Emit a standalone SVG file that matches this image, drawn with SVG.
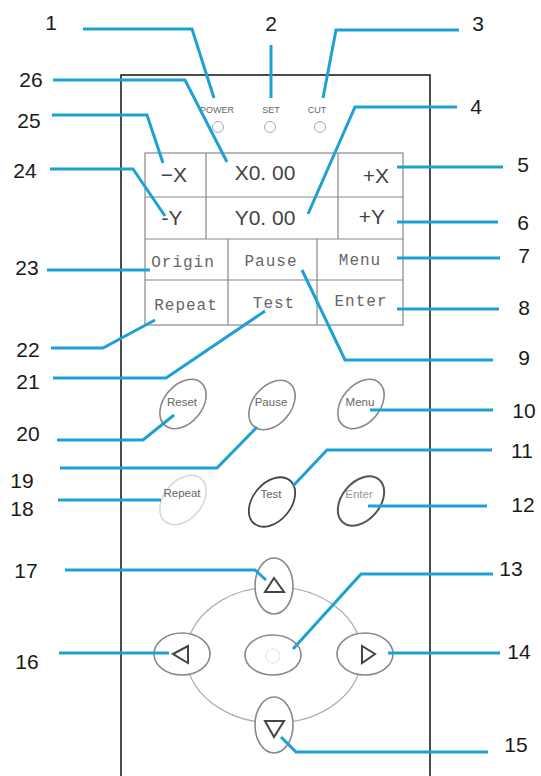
<svg xmlns="http://www.w3.org/2000/svg" width="541" height="776" viewBox="0 0 541 776">
<style>
.num{font-family:"Liberation Sans",Arial,sans-serif;font-size:21px;fill:#1a1a1a;text-anchor:middle}
.led{font-family:"Liberation Sans",Arial,sans-serif;font-size:9px;fill:#666;text-anchor:middle}
.ledc{fill:none;stroke:#aaa;stroke-width:1}
.cell{fill:none;stroke:#888;stroke-width:1.2}
.disp{font-family:"Liberation Sans",Arial,sans-serif;font-size:21px;fill:#444;text-anchor:middle}
.key{font-family:"Liberation Mono","Courier New",monospace;font-size:16px;fill:#666;text-anchor:middle;letter-spacing:1px}
.btn{fill:#fff;stroke:#888;stroke-width:1.6}
.btxt{font-family:"Liberation Sans",Arial,sans-serif;font-size:11.5px;fill:#666;text-anchor:middle}
.tri{fill:none;stroke:#444;stroke-width:2;stroke-linejoin:miter}
.con{fill:none;stroke:#1da1d4;stroke-width:3;stroke-linejoin:miter}
</style>
<rect width="541" height="776" fill="#fff"/>
<g id="panel">
<path d="M121,776 V75 H430 V776" fill="none" stroke="#111" stroke-width="1.5"/>
</g>
<g id="leds">
<text class="led" x="217" y="113">POWER</text>
<circle class="ledc" cx="218" cy="127" r="5.5"/>
<text class="led" x="271" y="113">SET</text>
<circle class="ledc" cx="270" cy="127" r="5.5"/>
<text class="led" x="317" y="113">CUT</text>
<circle class="ledc" cx="320" cy="127" r="5.5"/>
</g>
<g id="display">
<rect class="cell" x="145" y="153" width="258" height="172"/>
<line class="cell" x1="145" y1="197" x2="403" y2="197"/>
<line class="cell" x1="145" y1="239" x2="403" y2="239"/>
<line class="cell" x1="145" y1="280" x2="403" y2="280"/>
<line class="cell" x1="206" y1="153" x2="206" y2="239"/>
<line class="cell" x1="338" y1="153" x2="338" y2="239"/>
<line class="cell" x1="228" y1="239" x2="228" y2="325"/>
<line class="cell" x1="317" y1="239" x2="317" y2="325"/>
<text class="disp" x="174" y="182">−X</text>
<text class="disp" x="265" y="180">X0. 00</text>
<text class="disp" x="376" y="183">+X</text>
<text class="disp" x="172" y="225">-Y</text>
<text class="disp" x="265" y="225">Y0. 00</text>
<text class="disp" x="372" y="224">+Y</text>
<text class="key" x="183" y="267">Origin</text>
<text class="key" x="271" y="266">Pause</text>
<text class="key" x="360" y="265">Menu</text>
<text class="key" x="186" y="310">Repeat</text>
<text class="key" x="274" y="308">Test</text>
<text class="key" x="361" y="306">Enter</text>
</g>
<g id="btn-reset"><ellipse class="btn" cx="183" cy="404" rx="19" ry="28" transform="rotate(40 183 404)"/><text class="btxt" x="182" y="406">Reset</text></g>
<g id="btn-pause"><ellipse class="btn" cx="272" cy="405" rx="19" ry="28" transform="rotate(40 272 405)"/><text class="btxt" x="271" y="406">Pause</text></g>
<g id="btn-menu"><ellipse class="btn" cx="361" cy="404" rx="19" ry="28" transform="rotate(40 361 404)"/><text class="btxt" x="360" y="406">Menu</text></g>
<g id="btn-repeat"><ellipse class="btn" style="stroke:#d8d8d8" cx="183" cy="500" rx="19" ry="28" transform="rotate(40 183 500)"/><text class="btxt" x="182" y="497">Repeat</text></g>
<g id="btn-test"><ellipse class="btn" style="stroke:#444;stroke-width:1.8" cx="272" cy="502" rx="19" ry="28" transform="rotate(40 272 502)"/><text class="btxt" x="271" y="498">Test</text></g>
<g id="btn-enter"><ellipse class="btn" style="stroke:#555;stroke-width:2" cx="361" cy="501" rx="19" ry="28" transform="rotate(40 361 501)"/><text class="btxt" style="fill:#999" x="359" y="498">Enter</text></g>
<g id="dpad-ring"><ellipse cx="274" cy="655" rx="88" ry="68" fill="none" stroke="#aaa" stroke-width="1.2"/></g>
<g id="btn-up"><ellipse class="btn" cx="274" cy="586" rx="19" ry="28"/><polygon class="tri" points="274,578 265,592 284,592"/></g>
<g id="btn-down"><ellipse class="btn" cx="274" cy="725" rx="19" ry="28"/><polygon class="tri" points="265,721 284,721 274,737"/></g>
<g id="btn-left"><ellipse class="btn" cx="182" cy="654" rx="28" ry="21"/><polygon class="tri" points="173,654 188,646 188,663"/></g>
<g id="btn-right"><ellipse class="btn" cx="365" cy="654" rx="28" ry="21"/><polygon class="tri" points="362,646 362,663 375,654"/></g>
<g id="btn-center"><ellipse class="btn" cx="273" cy="655" rx="28" ry="20"/><circle cx="273" cy="656" r="7" fill="none" stroke="#ddd" stroke-width="1"/></g>
<g id="connectors">
<polyline class="con" points="83,29 192,29 214,98"/>
<polyline class="con" points="271,45 271,98"/>
<polyline class="con" points="459,30 336,30 323,98"/>
<polyline class="con" points="53,80 185,80 227,162"/>
<polyline class="con" points="52,115 147,115 163,163"/>
<polyline class="con" points="457,107 355,107 308,214"/>
<polyline class="con" points="50,169 133,169 165,216"/>
<polyline class="con" points="47,270 150,270"/>
<polyline class="con" points="51,348 103,348 155,320"/>
<polyline class="con" points="53,378 166,378 265,311"/>
<polyline class="con" points="397,167 503,167"/>
<polyline class="con" points="397,222 498,222"/>
<polyline class="con" points="397,258 500,258"/>
<polyline class="con" points="397,309 499,309"/>
<polyline class="con" points="302,270 345,360 493,360"/>
<polyline class="con" points="370,410 493,410"/>
<polyline class="con" points="57,440 143,440 174,415"/>
<polyline class="con" points="492,450 327,450 293,486"/>
<polyline class="con" points="60,468 217,468 257,427"/>
<polyline class="con" points="58,500 161,500"/>
<polyline class="con" points="368,506 487,506"/>
<polyline class="con" points="65,570 255,570 266,580"/>
<polyline class="con" points="493,574 361,574 293,649"/>
<polyline class="con" points="59,653 169,653"/>
<polyline class="con" points="500,653 388,653"/>
<polyline class="con" points="488,752 296,752 281,737"/>
</g>
<g id="labels">
<text class="num" x="51" y="30">1</text>
<text class="num" x="271" y="31">2</text>
<text class="num" x="478" y="31">3</text>
<text class="num" x="476" y="114">4</text>
<text class="num" x="523" y="172">5</text>
<text class="num" x="523" y="230">6</text>
<text class="num" x="524" y="263">7</text>
<text class="num" x="524" y="315">8</text>
<text class="num" x="524" y="365">9</text>
<text class="num" x="524" y="418">10</text>
<text class="num" x="522" y="458">11</text>
<text class="num" x="523" y="512">12</text>
<text class="num" x="511" y="576">13</text>
<text class="num" x="519" y="659">14</text>
<text class="num" x="516" y="752">15</text>
<text class="num" x="27" y="669">16</text>
<text class="num" x="26" y="578">17</text>
<text class="num" x="22" y="516">18</text>
<text class="num" x="22" y="488">19</text>
<text class="num" x="28" y="441">20</text>
<text class="num" x="28" y="389">21</text>
<text class="num" x="28" y="357">22</text>
<text class="num" x="27" y="275">23</text>
<text class="num" x="25" y="178">24</text>
<text class="num" x="29" y="128">25</text>
<text class="num" x="31" y="87">26</text>
</g>
</svg>
